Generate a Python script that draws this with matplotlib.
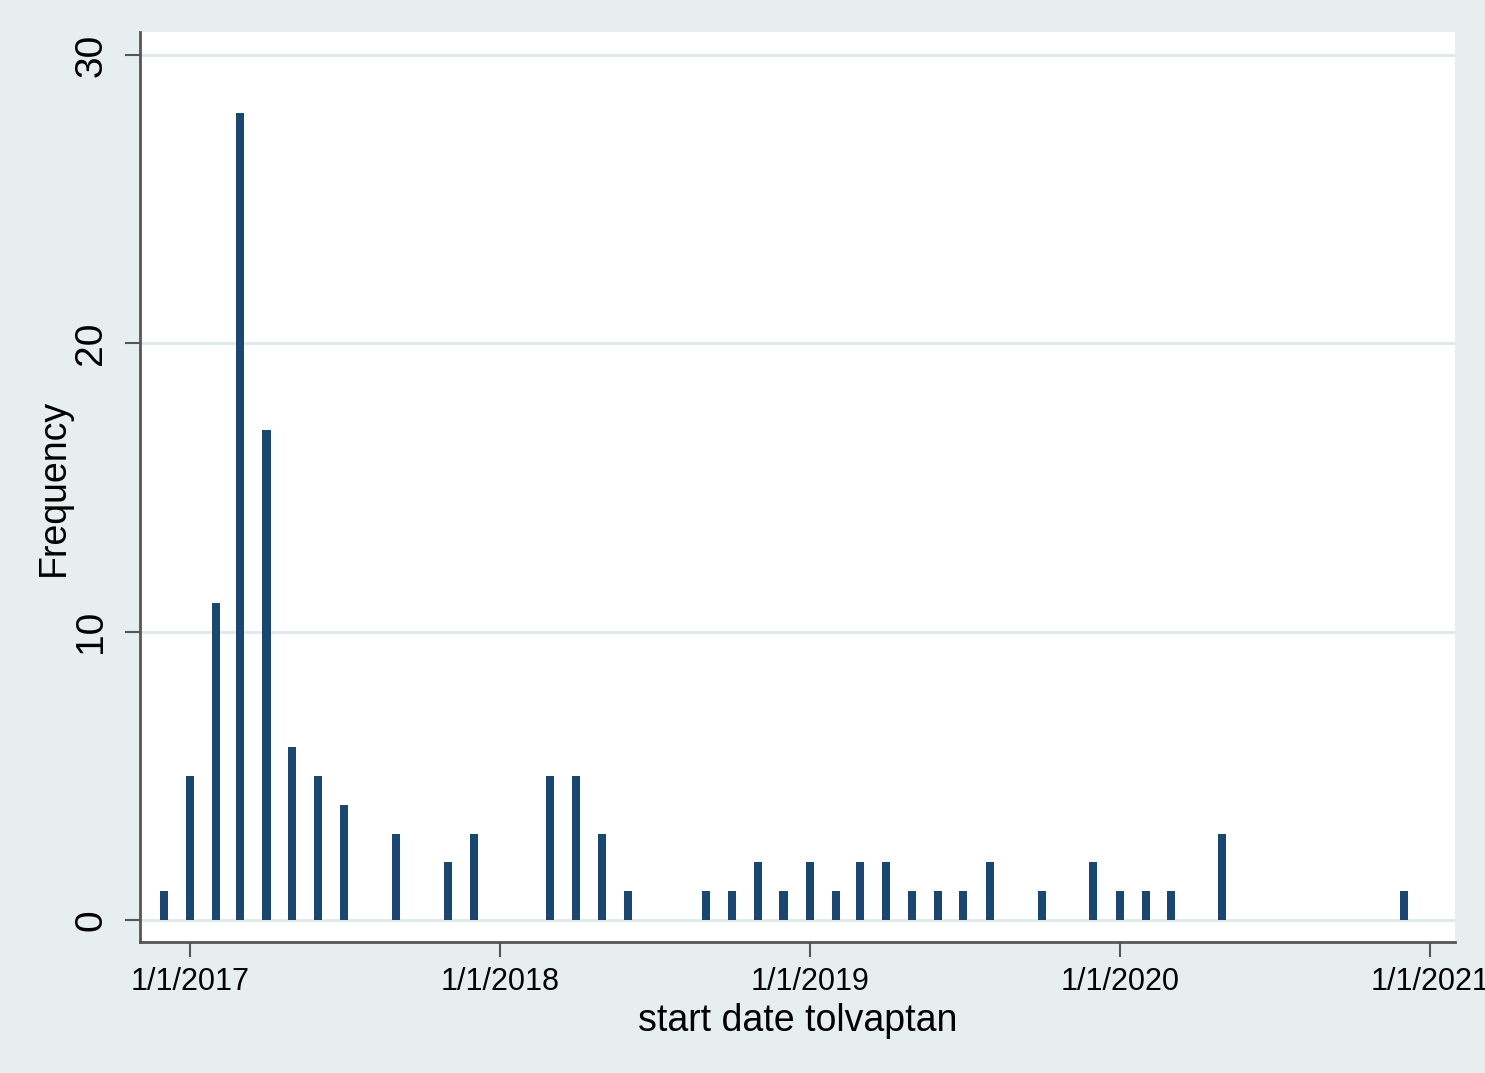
import matplotlib
matplotlib.use('Agg')

import matplotlib.pyplot as plt
import pandas as pd

# monthly counts of tolvaptan start dates (bars sit at the first of the month)
months = ['2016-12', '2017-01', '2017-02', '2017-03', '2017-04', '2017-05', '2017-06', '2017-07',
          '2017-09', '2017-11', '2017-12',
          '2018-03', '2018-04', '2018-05', '2018-06',
          '2018-09', '2018-10', '2018-11', '2018-12',
          '2019-01', '2019-02', '2019-03', '2019-04', '2019-05', '2019-06', '2019-07', '2019-08',
          '2019-10', '2019-12',
          '2020-01', '2020-02', '2020-03', '2020-05', '2020-12']
counts = [1, 5, 11, 28, 17, 6, 5, 4,
          3, 2, 3,
          5, 5, 3, 1,
          1, 1, 2, 1,
          2, 1, 2, 2, 1, 1, 1, 2,
          1, 2,
          1, 1, 1, 3, 1]

x_ticks = ['2017-01-01', '2018-01-01', '2019-01-01', '2020-01-01', '2021-01-01']
x_tick_labels = ['1/1/2017', '1/1/2018', '1/1/2019', '1/1/2020', '1/1/2021']
y_ticks = [0, 10, 20, 30]

BG = '#e6eeef'
BAR = '#1a476f'
GRID = '#dfe8e9'
AXIS = '#555555'

plt.rcParams['font.family'] = ['Liberation Sans', 'DejaVu Sans']

fig = plt.figure(figsize=(14.85, 10.73), dpi=100, facecolor=BG)
ax = fig.add_axes([140 / 1485, 1 - 942 / 1073, 1315 / 1485, 910 / 1073])
ax.set_facecolor('white')

dates = pd.to_datetime(months)
ax.bar(dates, counts, width=9.5, color=BAR, zorder=3)

ax.set_xlim(pd.Timestamp('2016-11-03'), pd.Timestamp('2021-01-30'))
ax.set_ylim(-0.76, 30.8)

ax.set_xticks(pd.to_datetime(x_ticks))
ax.set_xticklabels(x_tick_labels, fontsize=22)
ax.set_yticks(y_ticks)
ax.set_yticklabels([str(v) for v in y_ticks], fontsize=28, rotation=90, va='center')

ax.grid(axis='y', color=GRID, linewidth=2, zorder=0)
ax.grid(axis='x', visible=False)

for side in ['top', 'right']:
    ax.spines[side].set_visible(False)
for side in ['left', 'bottom']:
    ax.spines[side].set_color(AXIS)
    ax.spines[side].set_linewidth(2)

ax.tick_params(axis='x', length=11, width=1.5, color=AXIS, pad=7)
ax.tick_params(axis='y', length=11, width=1.5, color=AXIS, pad=11)

ax.set_xlabel('start date tolvaptan', fontsize=27)
ax.xaxis.set_label_coords(0.5, -0.067)
ax.set_ylabel('Frequency', fontsize=27)
ax.yaxis.set_label_coords(-0.052, 0.5)

fig.savefig('out.png', dpi=100, facecolor=BG)
